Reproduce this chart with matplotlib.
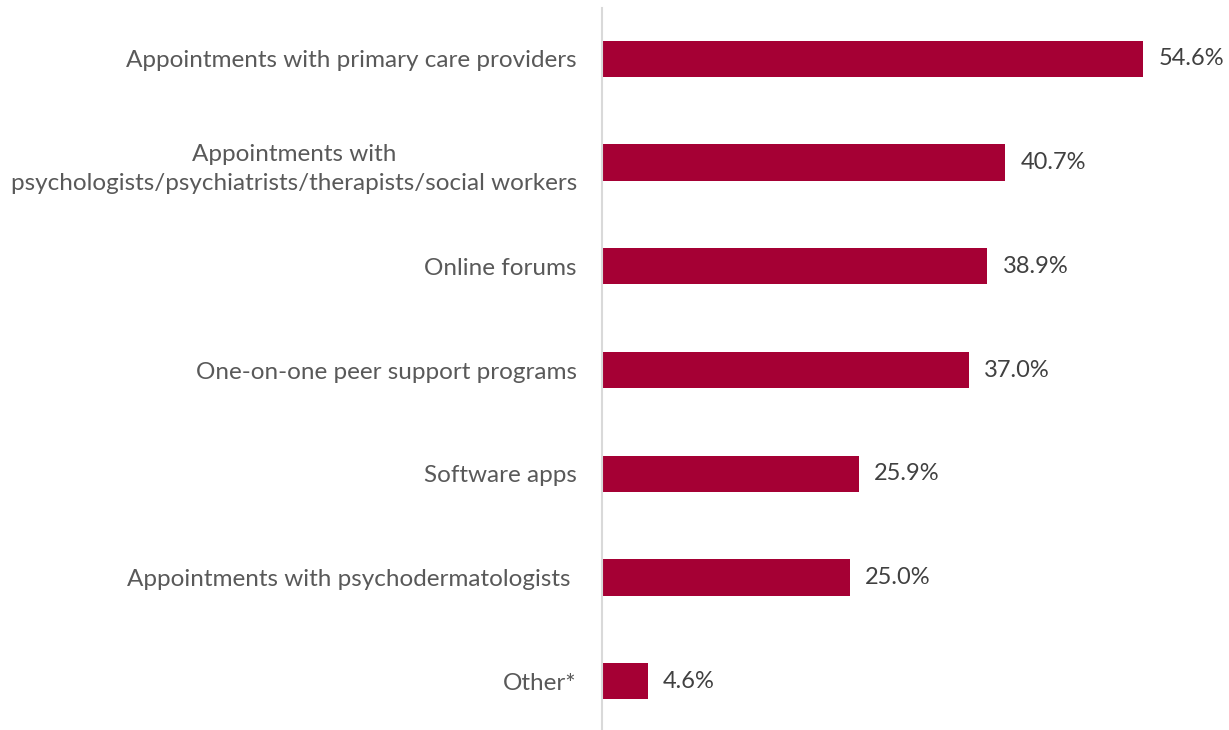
import matplotlib.pyplot as plt

plt.rcParams['font.family'] = ['Lato', 'DejaVu Sans']

categories = [
    'Appointments with primary care providers',
    'Appointments with\npsychologists/psychiatrists/therapists/social workers',
    'Online forums',
    'One-on-one peer support programs',
    'Software apps',
    'Appointments with psychodermatologists ',
    'Other*',
]
values = [54.6, 40.7, 38.9, 37.0, 25.9, 25.0, 4.6]

bar_color = '#A50034'

fig = plt.figure(figsize=(12.29, 7.30), dpi=100)
ax = fig.add_axes([602 / 1229, 0.0, 594.6 / 1229, 722 / 730])

y = list(range(len(categories)))
ax.barh(y, values, height=0.35, color=bar_color)

ax.set_xlim(0, 60)
ax.set_ylim(6.47, -0.49)

ax.set_yticks(y)
ax.set_yticklabels(categories, fontsize=17.5, color='#595959',
                   ha='right', multialignment='center', linespacing=1.5)
ax.tick_params(axis='y', length=0, pad=18)
ax.set_xticks([])

for s in ['top', 'right', 'bottom']:
    ax.spines[s].set_visible(False)
ax.spines['left'].set_color('#D9D9D9')
ax.spines['left'].set_linewidth(1.5)

# value labels just past the bar ends
for yi, v in zip(y, values):
    ax.annotate(f'{v:.1f}%', xy=(v, yi), xytext=(11, 0), textcoords='offset points',
                va='center', ha='left', fontsize=17, color='#404040')

fig.savefig('out.png', dpi=100)
